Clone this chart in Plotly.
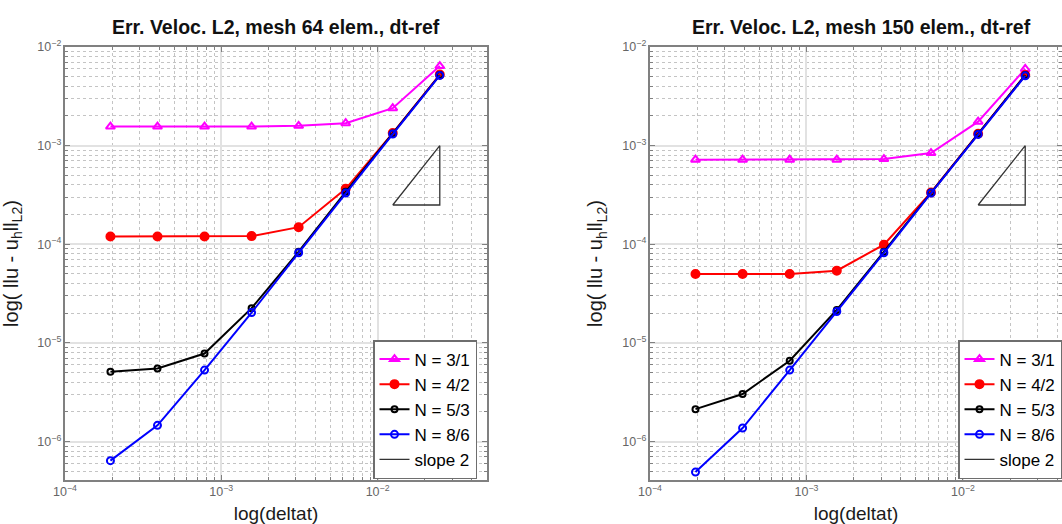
import plotly.graph_objects as go

# ---- data ----
deltat = [1.953125e-4, 3.90625e-4, 7.8125e-4, 1.5625e-3, 3.125e-3, 6.25e-3, 1.25e-2, 2.5e-2]

n31_64 = [1.56e-3, 1.56e-3, 1.56e-3, 1.56e-3, 1.59e-3, 1.69e-3, 2.4e-3, 6.4e-3]
n42_64 = [1.2e-4, 1.2e-4, 1.2e-4, 1.21e-4, 1.49e-4, 3.65e-4, 1.34e-3, 5.25e-3]
n53_64 = [5.1e-6, 5.5e-6, 7.8e-6, 2.25e-5, 8.4e-5, 3.4e-4, 1.33e-3, 5.2e-3]
n86_64 = [6.4e-7, 1.46e-6, 5.3e-6, 2.03e-5, 8.2e-5, 3.3e-4, 1.31e-3, 5.15e-3]

n31_150 = [7.2e-4, 7.2e-4, 7.2e-4, 7.2e-4, 7.3e-4, 8.4e-4, 1.75e-3, 6.0e-3]
n42_150 = [5.0e-5, 5.0e-5, 5.0e-5, 5.4e-5, 9.9e-5, 3.35e-4, 1.32e-3, 5.2e-3]
n53_150 = [2.13e-6, 3.03e-6, 6.6e-6, 2.16e-5, 8.4e-5, 3.35e-4, 1.32e-3, 5.2e-3]
n86_150 = [4.9e-7, 1.37e-6, 5.3e-6, 2.08e-5, 8.2e-5, 3.3e-4, 1.3e-3, 5.1e-3]

slope_x = [0.0125, 0.025, 0.025, 0.0125]
slope_y = [2.5e-4, 1.0e-3, 2.5e-4, 2.5e-4]

series_names = ["N = 3/1", "N = 4/2", "N = 5/3", "N = 8/6"]
titles = ["Err. Veloc. L2, mesh 64 elem., dt-ref", "Err. Veloc. L2, mesh 150 elem., dt-ref"]

styles = [
    dict(color="#ff00ff", symbol="triangle-up-open", size=8),
    dict(color="#ff0000", symbol="circle", size=8),
    dict(color="#000000", symbol="circle-open", size=6),
    dict(color="#0000ff", symbol="circle-open", size=7),
]

W, H = 1062, 524
fig = go.Figure()

panels = [
    dict(data=[n31_64, n42_64, n53_64, n86_64], xa="x", ya="y", legend="legend"),
    dict(data=[n31_150, n42_150, n53_150, n86_150], xa="x2", ya="y2", legend="legend2"),
]

for p in panels:
    for name, ys, st in zip(series_names, p["data"], styles):
        fig.add_trace(go.Scatter(
            x=deltat, y=ys, name=name, mode="lines+markers",
            line=dict(color=st["color"], width=2),
            marker=dict(symbol=st["symbol"], size=st["size"], color=st["color"],
                        line=dict(color=st["color"], width=2)),
            xaxis=p["xa"], yaxis=p["ya"], legend=p["legend"],
        ))
    fig.add_trace(go.Scatter(
        x=slope_x, y=slope_y, name="slope 2", mode="lines",
        line=dict(color="#333333", width=1.3),
        xaxis=p["xa"], yaxis=p["ya"], legend=p["legend"],
    ))

tickfont = dict(family="Liberation Sans, Arial", size=10, color="#666666")
axis_common = dict(
    type="log", dtick=1, exponentformat="power", showexponent="all",
    showline=True, linecolor="#808080", linewidth=1.5, mirror="ticks",
    ticks="inside", ticklen=5, tickcolor="#808080",
    showgrid=True, gridcolor="#e2e2e2", gridwidth=1.5,
    zeroline=False, tickfont=tickfont, automargin=False,
    minor=dict(dtick="D1", ticks="inside", ticklen=3, tickcolor="#808080",
               showgrid=True, gridcolor="#c4c4c4", griddash="dot", gridwidth=1),
)

x_left = (65, 487)
x_right = (650, 1062)
y_px = (47, 480)
ydom = [1 - y_px[1] / H, 1 - y_px[0] / H]

leg_common = dict(xanchor="left", yanchor="top",
                  bgcolor="white", bordercolor="#6e6e6e", borderwidth=1.5,
                  font=dict(size=17, color="#000"), tracegroupgap=0, itemwidth=30)

fig.update_layout(
    width=W, height=H, margin=dict(l=0, r=0, t=0, b=0),
    paper_bgcolor="white", plot_bgcolor="white",
    font=dict(family="Liberation Sans, Arial", color="#000000"),
    xaxis=dict(axis_common, domain=[x_left[0] / W, x_left[1] / W], range=[-4, -1.3],
               anchor="y",
               title=dict(text="log(deltat)", font=dict(size=19, color="#1a1a1a"), standoff=8)),
    yaxis=dict(axis_common, domain=ydom, range=[-6.39, -2], anchor="x",
               title=dict(text="log( llu - u<sub>h</sub>ll<sub>L2</sub>)",
                          font=dict(size=20, color="#1a1a1a"), standoff=14)),
    xaxis2=dict(axis_common, domain=[x_right[0] / W, x_right[1] / W], range=[-4, -1.367],
                anchor="y2",
                title=dict(text="log(deltat)", font=dict(size=19, color="#1a1a1a"), standoff=8)),
    yaxis2=dict(axis_common, domain=ydom, range=[-6.39, -2], anchor="x2",
                title=dict(text="log( llu - u<sub>h</sub>ll<sub>L2</sub>)",
                           font=dict(size=20, color="#1a1a1a"), standoff=14)),
    legend=dict(leg_common, x=373 / W, y=1 - 340 / H),
    legend2=dict(leg_common, x=958 / W, y=1 - 340 / H),
    showlegend=True,
)

centers = [(x_left[0] + 487) / 2, (650 + 1072) / 2]
for t, cx in zip(titles, centers):
    fig.add_annotation(text="<b>" + t + "</b>", x=cx / W, y=1 - 27 / H,
                       xref="paper", yref="paper", showarrow=False,
                       xanchor="center", yanchor="middle",
                       font=dict(family="Liberation Sans, Arial", size=19.5, color="#111"))

fig.write_html("out.html")
